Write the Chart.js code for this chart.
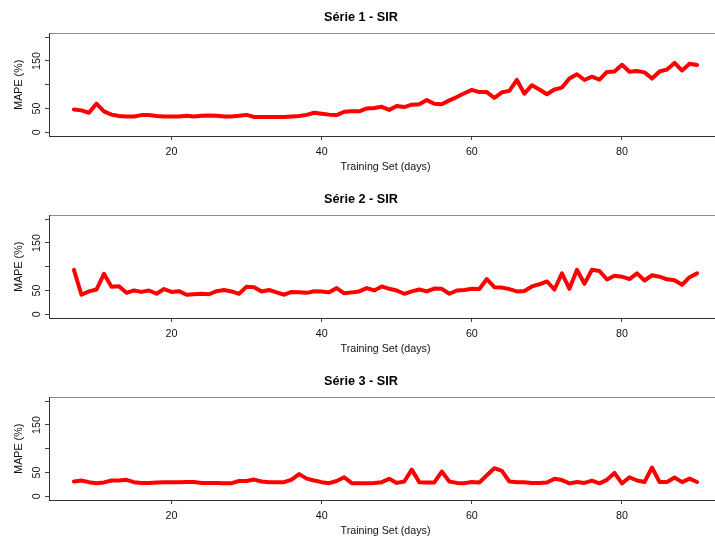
<!DOCTYPE html>
<html>
<head>
<meta charset="utf-8">
<script src="https://cdn.jsdelivr.net/npm/chart.js@4/dist/chart.umd.min.js"></script>
<style>
  body { margin: 0; background: #fff; overflow: hidden; width: 715px; height: 537px; }
  .panel { width: 771px; height: 182px; }
  canvas { display: block; }
</style>
</head>
<body>
<div class="panel"><canvas id="c1" width="771" height="182"></canvas></div>
<div class="panel"><canvas id="c2" width="771" height="182"></canvas></div>
<div class="panel"><canvas id="c3" width="771" height="182"></canvas></div>
<script>
// Training set size (days)
const days = [7, 8, 9, 10, 11, 12, 13, 14, 15, 16, 17, 18, 19, 20, 21, 22, 23, 24, 25, 26,
  27, 28, 29, 30, 31, 32, 33, 34, 35, 36, 37, 38, 39, 40, 41, 42, 43, 44, 45, 46,
  47, 48, 49, 50, 51, 52, 53, 54, 55, 56, 57, 58, 59, 60, 61, 62, 63, 64, 65, 66,
  67, 68, 69, 70, 71, 72, 73, 74, 75, 76, 77, 78, 79, 80, 81, 82, 83, 84, 85, 86,
  87, 88, 89, 90];

// MAPE (%) per series
const serie1 = [48, 46, 41, 60, 44, 37, 34, 33, 33, 36, 36, 34, 33, 33, 33, 34.5, 33, 34.5, 35, 34.5,
  33, 33, 34.5, 36.5, 32, 32, 32, 32, 32, 33, 34, 36.5, 41, 39, 37, 36, 43, 44, 44, 50,
  51, 53.5, 47, 55, 53, 58, 59, 67.6, 60, 59, 67, 74, 82, 89, 84.5, 84.5, 72, 84, 87, 110,
  81, 99, 90, 80, 90, 94, 113, 122, 110, 117, 110.5, 127, 128, 142, 127.5, 129, 126, 113, 128, 132,
  146, 130, 144, 141.5];

const serie2 = [93.5, 41, 48, 52, 85, 58, 59, 45, 50, 47, 50, 43, 53, 47, 48.5, 41, 42, 43, 42, 48.5,
  51, 48, 43, 58, 57, 48, 51, 46, 41, 47, 46, 45, 48.5, 48, 46, 55, 44, 46, 48, 55,
  50, 58.5, 53.5, 50, 43, 48, 52, 48, 54, 53.5, 43, 50, 51, 53.5, 53, 74, 57, 56, 53, 48,
  49, 58.5, 63, 69, 52, 86, 53.5, 93.5, 64, 93.5, 91, 73, 81, 79, 74, 86, 71, 82, 79, 73.5,
  71.5, 62, 78, 86];

const serie3 = [31, 33, 29.6, 27.5, 29, 33, 33, 34.5, 29.6, 28, 28, 29, 29.6, 29.6, 29.6, 30, 30, 28, 28, 28,
  27.5, 27.5, 32, 32, 35, 31, 29.6, 29.6, 29.6, 35, 46.5, 37, 33, 29.6, 27.5, 32, 40, 27.5, 27.5, 27.5,
  28, 29.6, 36.6, 28, 31, 56, 29.6, 29, 29, 52, 31, 28, 27.5, 30, 29, 44, 59, 53.5, 31, 29.6,
  29.6, 28, 28, 29, 36.6, 34, 27, 30, 28, 33, 27, 34.5, 49, 27, 40, 33, 30, 60.5, 30, 30,
  39.4, 29.6, 37, 30];

const titles = ['Série 1 - SIR', 'Série 2 - SIR', 'Série 3 - SIR'];
const xTicks = [20, 40, 60, 80];
const yTicks = [0, 50, 100, 150, 200];
const yTickLabels = ['0', '50', '', '150', ''];

const FONT = "'Liberation Sans', Arial, Helvetica, sans-serif";

// grey frame around the plot region, drawn under the axes
const boxPlugin = {
  id: 'box',
  beforeDraw(chart) {
    const { ctx, chartArea: a } = chart;
    ctx.save();
    ctx.strokeStyle = '#8c8c8c';
    ctx.lineWidth = 1;
    ctx.strokeRect(Math.round(a.left) + 0.5, Math.round(a.top) + 0.5,
      Math.round(a.right - a.left), Math.round(a.bottom - a.top));
    ctx.restore();
  }
};

function makePanel(id, title, values) {
  const points = days.map((d, i) => ({ x: d, y: values[i] }));

  return new Chart(document.getElementById(id), {
    type: 'line',
    data: {
      datasets: [{
        data: points,
        borderColor: '#ff0000',
        borderWidth: 4,
        borderJoinStyle: 'round',
        borderCapStyle: 'round',
        pointRadius: 0,
        tension: 0,
        fill: false
      }]
    },
    options: {
      responsive: false,
      animation: false,
      devicePixelRatio: 1,
      layout: { padding: { left: 0, right: 49, top: 0, bottom: 0 } },
      plugins: {
        legend: { display: false },
        tooltip: { enabled: false },
        title: {
          display: true,
          text: title,
          color: '#000',
          font: { family: FONT, size: 12.7, weight: 'bold' },
          padding: { top: 9.5, bottom: 8.7 }
        }
      },
      scales: {
        x: {
          type: 'linear',
          min: 3.68,
          max: 93.32,
          afterBuildTicks: s => { s.ticks = xTicks.map(v => ({ value: v })); },
          afterFit: s => { s.height = 46; },
          grid: { drawOnChartArea: false, tickLength: 4, color: '#444' },
          border: { display: true, color: '#333', width: 1 },
          ticks: {
            color: '#111',
            font: { family: FONT, size: 10.7 },
            padding: 6,
            maxRotation: 0,
            autoSkip: false
          },
          title: {
            display: true,
            text: 'Training Set (days)',
            color: '#111',
            font: { family: FONT, size: 10.7 },
            padding: { top: 0, bottom: 8.3 }
          }
        },
        y: {
          type: 'linear',
          min: -8,
          max: 208,
          afterBuildTicks: s => { s.ticks = yTicks.map(v => ({ value: v })); },
          afterFit: s => { s.width = 49; },
          grid: { drawOnChartArea: false, tickLength: 4, color: '#444' },
          border: { display: true, color: '#333', width: 1 },
          ticks: {
            color: '#111',
            font: { family: FONT, size: 10.7 },
            padding: -1,
            minRotation: 90,
            maxRotation: 90,
            crossAlign: 'center',
            autoSkip: false,
            callback: v => yTickLabels[yTicks.indexOf(v)]
          },
          title: {
            display: true,
            text: 'MAPE (%)',
            color: '#111',
            font: { family: FONT, size: 10.7 },
            padding: { top: 13, bottom: 0 }
          }
        }
      }
    },
    plugins: [boxPlugin]
  });
}

makePanel('c1', titles[0], serie1);
makePanel('c2', titles[1], serie2);
makePanel('c3', titles[2], serie3);
</script>
</body>
</html>
